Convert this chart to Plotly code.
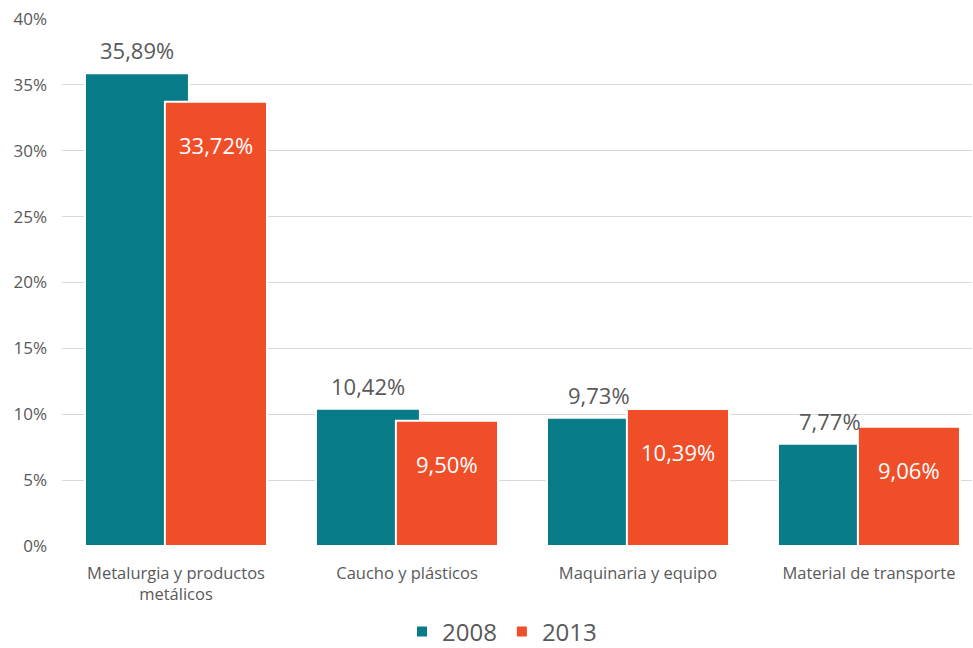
import plotly.graph_objects as go

categories = ["Metalurgia y productos<br>metálicos", "Caucho y plásticos",
              "Maquinaria y equipo", "Material de transporte"]
years = ["2008", "2013"]
values_2008 = [35.89, 10.42, 9.73, 7.77]
values_2013 = [33.72, 9.50, 10.39, 9.06]
y_ticks = [0, 5, 10, 15, 20, 25, 30, 35, 40]

FONT = "Open Sans"
C08 = "#077B88"
C13 = "#F04E28"
GRAY = "#595959"

W, H = 973, 648

xs = list(range(len(categories)))
off08, w08 = -0.394, 0.450
off13, w13 = -0.048, 0.442

fig = go.Figure()
fig.add_trace(go.Bar(
    x=xs, y=values_2008, name=years[0], offset=off08, width=w08,
    marker=dict(color=C08, line=dict(color="white", width=2)),
))
fig.add_trace(go.Bar(
    x=xs, y=values_2013, name=years[1], offset=off13, width=w13,
    marker=dict(color=C13, line=dict(color="white", width=2)),
))

def fmt(v):
    return f"{v:.2f}".replace(".", ",") + "%"

ann = []
for i, v in enumerate(values_2008):
    ann.append(dict(x=i + off08 + w08 / 2, y=v, xref="x", yref="y", text=fmt(v),
                    showarrow=False, yanchor="middle", yshift=23,
                    font=dict(family=FONT, size=22, color=GRAY)))
for i, v in enumerate(values_2013):
    ann.append(dict(x=i + off13 + w13 / 2, y=v, xref="x", yref="y", text=fmt(v),
                    showarrow=False, yanchor="middle", yshift=-43,
                    font=dict(family=FONT, size=22, color="white")))

fig.update_layout(
    width=W, height=H,
    margin=dict(l=62, r=1, t=19, b=102, autoexpand=False),
    paper_bgcolor="white", plot_bgcolor="white",
    barmode="overlay",
    separators=",.",
    font=dict(family=FONT, color=GRAY),
    annotations=ann,
    showlegend=True,
    hovermode=False,
    legend=dict(orientation="h", x=502 / W, xanchor="center", xref="container",
                y=1 - 632 / H, yanchor="middle", yref="container",
                font=dict(family=FONT, size=24, color=GRAY),
                traceorder="normal"),
    xaxis=dict(range=[-0.4935, 3.446], tickmode="array", tickvals=xs, ticktext=categories,
               showgrid=False, zeroline=False, showline=False, ticks="", automargin=False,
               ticklabelstandoff=15,
               tickfont=dict(family=FONT, size=16.5, color=GRAY)),
    yaxis=dict(range=[0, 40], tickmode="array", tickvals=y_ticks,
               ticktext=[f"{t}%" for t in y_ticks], automargin=False,
               showgrid=True, gridcolor="#D9D9D9", gridwidth=1, zeroline=False,
               showline=False, ticks="", ticklabelstandoff=14,
               tickfont=dict(family=FONT, size=17, color=GRAY)),
)

fig.write_html("out.html", config={"displayModeBar": False},
               post_script="document.body.style.margin='0';document.body.style.overflow='hidden';")
